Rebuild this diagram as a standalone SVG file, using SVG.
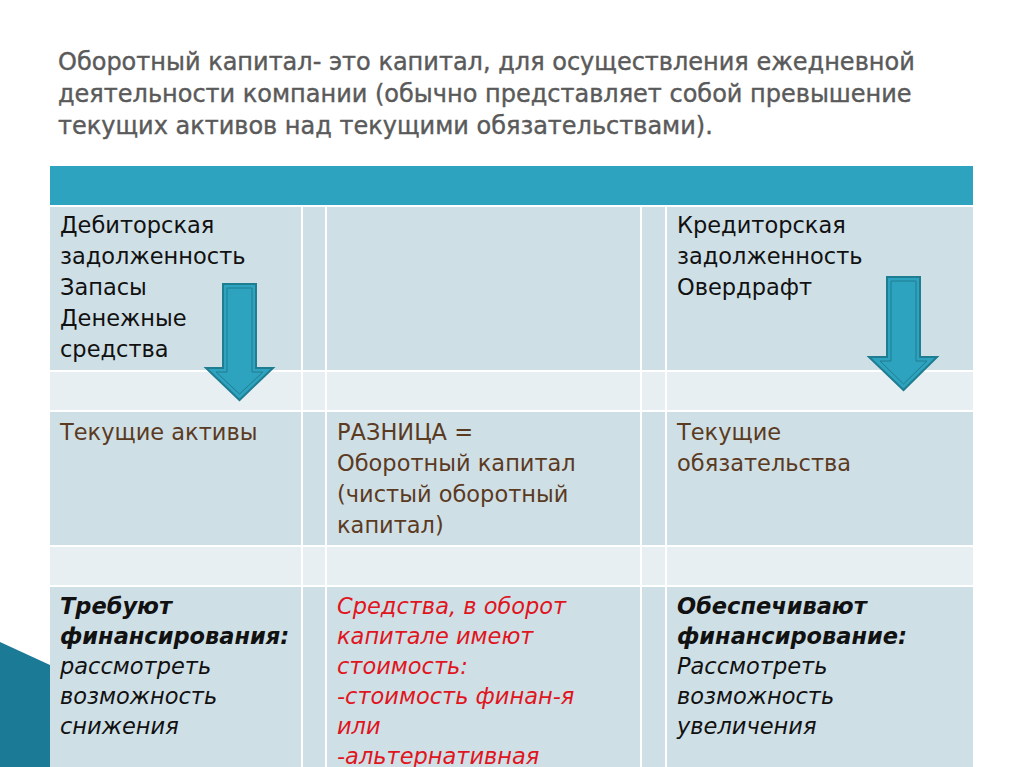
<svg xmlns="http://www.w3.org/2000/svg" width="1024" height="767" viewBox="0 0 1024 767">
<style>
.t{font-family:"DejaVu Sans",sans-serif;font-size:24px;fill:#5a5a5a;stroke:#5a5a5a;stroke-width:0.4}
.c{font-family:"DejaVu Sans",sans-serif;font-size:22.5px;fill:#111}
.b{fill:#5b3a22}
.i{font-style:italic}
.bi{font-style:italic;font-weight:bold}
.r{fill:#e0151d}
.a{fill:#2ea3bf;stroke:#1f7d91;stroke-width:2}
.a2{fill:none;stroke:#1f7d91;stroke-width:1}
</style>
<rect width="1024" height="767" fill="#fff"/>
<polygon points="0,642 50,665 50,767 0,767" fill="#1b7a96"/>
<g id="title">
<text class="t" x="58" y="70">Оборотный капитал- это капитал, для осуществления ежедневной</text>
<text class="t" x="58" y="102">деятельности компании (обычно представляет собой превышение</text>
<text class="t" x="58" y="134">текущих активов над текущими обязательствами).</text>
</g>
<g id="table">
<rect x="50" y="166" width="923" height="39" fill="#2ea3bf"/>
<g fill="#cfdfe6">
<rect x="50" y="207" width="251" height="163"/><rect x="303" y="207" width="22" height="163"/><rect x="327" y="207" width="313" height="163"/><rect x="642" y="207" width="23" height="163"/><rect x="667" y="207" width="306" height="163"/>
<rect x="50" y="412" width="251" height="133"/><rect x="303" y="412" width="22" height="133"/><rect x="327" y="412" width="313" height="133"/><rect x="642" y="412" width="23" height="133"/><rect x="667" y="412" width="306" height="133"/>
<rect x="50" y="587" width="251" height="180"/><rect x="303" y="587" width="22" height="180"/><rect x="327" y="587" width="313" height="180"/><rect x="642" y="587" width="23" height="180"/><rect x="667" y="587" width="306" height="180"/>
</g>
<g fill="#e8eff2">
<rect x="50" y="372" width="251" height="38"/><rect x="303" y="372" width="22" height="38"/><rect x="327" y="372" width="313" height="38"/><rect x="642" y="372" width="23" height="38"/><rect x="667" y="372" width="306" height="38"/>
<rect x="50" y="547" width="251" height="38"/><rect x="303" y="547" width="22" height="38"/><rect x="327" y="547" width="313" height="38"/><rect x="642" y="547" width="23" height="38"/><rect x="667" y="547" width="306" height="38"/>
</g>
</g>
<g id="cells">
<text class="c" x="60" y="233">Дебиторская</text>
<text class="c" x="60" y="264">задолженность</text>
<text class="c" x="60" y="295">Запасы</text>
<text class="c" x="60" y="326">Денежные</text>
<text class="c" x="60" y="357">средства</text>
<text class="c" x="677" y="233">Кредиторская</text>
<text class="c" x="677" y="264">задолженность</text>
<text class="c" x="677" y="295">Овердрафт</text>
<text class="c b" x="60" y="440">Текущие активы</text>
<text class="c b" x="337" y="440">РАЗНИЦА =</text>
<text class="c b" x="337" y="471">Оборотный капитал</text>
<text class="c b" x="337" y="502">(чистый оборотный</text>
<text class="c b" x="337" y="533">капитал)</text>
<text class="c b" x="677" y="440">Текущие</text>
<text class="c b" x="677" y="471">обязательства</text>
<text class="c bi" x="60" y="614">Требуют</text>
<text class="c bi" x="60" y="644">финансирования:</text>
<text class="c i" x="60" y="674">рассмотреть</text>
<text class="c i" x="60" y="704">возможность</text>
<text class="c i" x="60" y="734">снижения</text>
<text class="c i r" x="337" y="614">Средства, в оборот</text>
<text class="c i r" x="337" y="644">капитале имеют</text>
<text class="c i r" x="337" y="674">стоимость:</text>
<text class="c i r" x="337" y="704">-стоимость финан-я</text>
<text class="c i r" x="337" y="734">или</text>
<text class="c i r" x="337" y="764">-альтернативная</text>
<text class="c bi" x="677" y="614">Обеспечивают</text>
<text class="c bi" x="677" y="644">финансирование:</text>
<text class="c i" x="677" y="674">Рассмотреть</text>
<text class="c i" x="677" y="704">возможность</text>
<text class="c i" x="677" y="734">увеличения</text>
</g>
<g id="arrows">
<polygon class="a" points="223,284 256,284 256,368 273,368 239.5,400 206,368 223,368"/>
<polygon class="a2" points="227,288 252,288 252,372 263,372 239.5,394 216,372 227,372"/>
<polygon class="a" points="887,277 920,277 920,357 937,357 903.5,390 869,357 887,357"/>
<polygon class="a2" points="891,281 916,281 916,361 927,361 903.5,384 880,361 891,361"/>
</g>
</svg>
